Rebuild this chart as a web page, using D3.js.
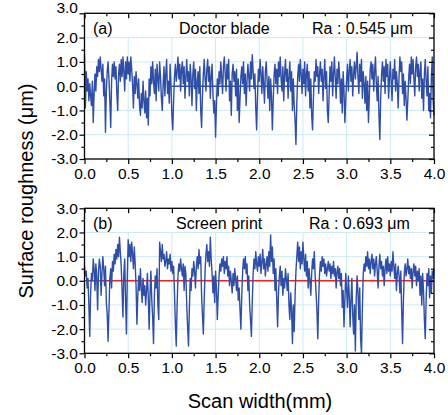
<!DOCTYPE html>
<html>
<head>
<meta charset="utf-8">
<script src="https://cdn.jsdelivr.net/npm/d3@7"></script>
<style>
  html, body { margin: 0; padding: 0; background: #fff; }
  svg { display: block; }
</style>
</head>
<body>
<svg id="chart" width="448" height="415"></svg>
<script>
// ---- data ----
const scanStart = 0.0, scanEnd = 4.0;           // mm
const xTickLabels = ["0.0","0.5","1.0","1.5","2.0","2.5","3.0","3.5","4.0"];
const yTickLabels = ["3.0","2.0","1.0","0.0","-1.0","-2.0","-3.0"];
const panelLetters = ["(a)", "(b)"];
const panelNames = ["Doctor blade", "Screen print"];
const panelRa = ["Ra : 0.545 \u03BCm", "Ra : 0.693 \u03BCm"];

// Doctor blade profile, sampled every 0.01 mm (µm)
const doctorBlade = [
 1.3,-0.9,0.6,-0.2,0.3,-0.6,0.1,-0.4,-0.8,0.2,
 -1.5,-0.3,0.5,-0.2,0.8,0.4,1.1,0.6,1.2,0.7,
 0.2,0.9,-0.4,0.3,-1.9,-0.2,0.6,1.0,0.3,-0.6,
 -1.7,0.2,0.9,0.4,1.0,0.3,0.8,-0.3,-1.0,0.5,
 0.9,0.2,1.1,0.4,1.2,0.6,-0.2,1.0,0.3,1.2,
 0.5,1.0,0.2,1.2,0.7,0.1,-0.9,0.4,-0.3,0.6,
 0.1,-0.5,0.3,-0.8,-1.2,-0.3,-0.9,0.2,-0.6,-1.1,
 -0.2,-1.3,-0.5,-1.6,0.3,-0.4,0.8,0.1,1.0,0.2,
 -0.3,0.7,-0.6,0.9,0.3,-0.2,1.0,0.4,-0.5,-1.0,
 0.1,0.8,-0.4,0.5,1.1,-0.3,0.2,-0.7,0.9,0.0,
 -1.2,-1.8,-0.6,0.4,0.9,0.2,0.6,1.2,0.3,0.9,
 -0.2,0.7,1.0,0.1,0.8,-0.5,0.4,1.1,0.2,0.6,
 -0.4,0.9,0.3,-0.8,0.5,1.0,-0.1,0.7,-1.0,0.2,
 0.6,-0.3,0.8,-1.0,-1.7,-0.4,0.5,1.1,0.3,-0.2,
 0.7,1.1,0.2,0.8,-0.5,0.4,0.9,-0.3,-1.1,-0.6,
 -2.1,-0.8,0.3,-0.4,0.6,0.1,1.0,0.4,-0.3,0.8,
 1.2,0.5,-0.2,0.9,0.3,1.1,-0.6,0.2,-1.2,0.5,
 0.9,0.2,0.6,-0.4,0.7,-1.0,0.3,-1.5,-0.5,0.4,
 0.8,0.1,1.0,-0.3,0.5,-0.8,0.2,0.9,0.4,-0.2,
 1.0,0.3,1.3,0.6,-0.1,0.5,-0.9,-1.8,-0.4,0.7,
 0.2,1.1,0.5,-0.3,0.8,0.1,-0.7,0.6,1.0,0.2,
 -0.5,0.4,-1.0,0.3,-0.4,-1.8,-0.6,0.5,0.9,0.1,
 0.7,-0.3,1.0,0.4,1.2,0.3,-0.2,0.8,-0.6,0.5,
 1.1,0.2,0.7,-0.5,0.4,1.0,-0.2,0.6,-1.0,0.3,
 -0.8,-1.4,-2.4,-0.7,0.4,0.9,0.2,1.1,0.5,-0.3,
 0.7,0.1,1.0,-0.4,0.5,0.9,-0.2,0.6,-0.9,0.3,
 -1.2,-1.8,-0.5,0.6,0.2,1.1,0.4,0.8,-0.3,0.5,
 1.0,0.2,0.7,-0.6,0.4,1.1,-0.1,0.6,-1.0,-1.5,
 -0.3,0.8,0.2,1.0,-0.4,0.5,1.2,0.3,-0.5,0.7,
 0.1,1.0,0.4,-0.7,0.3,-1.1,0.6,-0.2,-1.5,-0.6,
 0.3,0.9,-0.2,0.6,1.1,0.2,0.8,-0.4,0.5,1.0,
 0.3,0.8,1.4,0.4,-0.3,0.9,0.2,1.1,-0.5,0.6,
 0.1,-0.7,0.4,-1.0,0.2,-1.5,-0.4,0.7,1.0,0.3,
 0.9,-0.2,0.6,1.2,0.1,-0.6,0.4,-1.2,-2.2,-0.5,
 0.5,1.0,0.2,0.8,-0.3,1.1,0.4,0.9,-0.5,0.3,
 1.0,0.2,-0.6,0.7,0.3,1.1,-0.2,0.6,0.1,-0.9,
 0.4,1.2,0.6,1.0,-0.3,0.5,-0.8,0.2,-0.5,-1.4,
 -0.6,0.3,0.9,0.1,1.2,0.5,1.1,0.3,-0.4,0.8,
 1.2,0.4,0.9,-0.2,0.6,1.0,-0.5,0.3,-1.0,0.5,
 1.1,0.2,-0.4,0.8,-1.0,-0.3,-1.3,0.4,1.2,-0.6,
 -1.2
];

// Screen print profile, sampled every 0.01 mm (µm)
const screenPrint = [
 0.6,0.2,0.4,-0.3,0.1,-1.0,-2.3,-0.5,0.3,0.0,
 0.9,0.5,-0.4,0.7,0.2,-1.2,0.4,0.9,0.6,-0.6,
 0.3,1.0,0.5,-0.2,0.6,-0.9,-1.4,-2.5,-1.2,0.1,
 0.5,-0.3,0.8,0.4,1.1,0.7,1.3,0.9,1.5,1.0,
 1.8,1.2,0.6,-0.4,-1.5,0.3,0.9,-0.8,-2.2,0.2,
 1.7,1.0,1.5,0.8,1.6,1.1,0.5,1.4,0.7,-0.2,
 -1.8,-0.6,0.2,-0.4,0.5,-0.3,-0.9,0.1,-0.6,-0.2,
 -1.0,-0.4,0.3,-0.7,-2.0,-0.5,0.4,-0.8,-1.5,-2.6,
 -0.6,0.2,-0.3,0.5,-1.0,-1.6,1.6,1.2,0.8,1.5,
 0.9,1.1,0.6,0.8,1.2,0.5,0.9,0.7,1.1,0.4,
 0.8,0.3,0.6,-0.5,-1.8,-2.7,-1.0,0.2,0.7,0.4,
 0.9,0.5,0.2,0.7,-0.4,0.6,0.3,-1.0,-1.9,-2.7,
 -1.2,0.1,-0.4,0.5,0.2,0.8,0.4,-0.3,0.6,1.0,
 0.5,1.3,0.7,1.0,-0.6,-1.4,-2.2,-0.8,0.4,1.1,
 1.5,0.8,1.2,0.6,1.8,0.9,0.3,-0.5,0.2,-0.9,
 0.4,-0.3,-1.6,-0.6,0.2,0.7,0.4,0.9,0.6,1.0,
 0.3,0.8,0.5,1.0,0.2,0.6,-0.2,0.4,0.0,-0.5,
 0.3,-0.2,0.5,0.1,-0.4,0.2,-0.8,-0.3,-1.2,-2.0,
 -0.6,0.4,0.9,0.5,1.0,0.3,0.7,-0.4,0.2,-1.0,
 -1.6,-2.3,-0.9,0.3,0.9,0.5,1.2,0.7,0.4,1.0,
 0.6,1.1,0.3,0.8,1.3,0.5,0.9,0.2,0.7,1.0,
 0.4,1.2,0.6,1.9,0.8,1.4,0.3,0.9,-0.4,0.5,
 -0.8,-1.9,-0.5,0.2,0.6,-0.2,0.4,-0.6,0.1,-0.3,
 0.5,0.1,-0.4,0.3,-1.0,-1.6,-0.5,-1.2,-2.6,-1.0,
 -2.1,-0.6,0.4,1.0,1.6,0.8,1.4,0.5,1.2,0.7,
 1.6,0.9,0.4,1.1,0.2,0.8,-0.3,0.5,0.0,-0.6,
 0.3,0.9,0.5,1.2,0.2,-0.5,-1.2,-2.4,-0.8,0.3,
 0.8,0.4,1.0,0.6,0.9,0.3,0.7,0.2,0.5,0.8,
 0.4,0.7,0.1,0.6,0.3,0.8,0.2,0.5,-0.3,0.4,
 0.6,0.1,0.5,-0.2,0.3,-1.1,-0.4,-1.9,-0.8,0.3,
 -0.4,-1.1,0.2,-0.6,-1.9,-0.8,0.1,-1.4,-2.2,-1.0,
 -2.9,-0.7,0.2,-0.5,-1.6,-0.3,-2.4,-3.0,-1.2,0.3,
 0.7,0.4,1.0,0.6,1.2,0.5,0.9,0.3,0.8,1.1,
 0.5,0.9,0.2,0.7,1.0,0.4,-0.3,0.6,1.1,0.5,
 0.8,0.2,0.6,-0.2,0.5,0.9,0.3,1.0,0.4,0.7,
 0.2,0.8,0.4,1.2,0.6,0.1,0.7,-0.4,0.3,0.6,
 0.2,-0.5,0.4,-1.2,-2.6,-0.8,0.3,0.7,0.2,0.5,
 0.9,0.3,0.6,0.1,0.5,-0.3,0.4,0.7,0.2,0.6,
 -0.2,0.4,0.0,0.5,-0.6,0.2,-1.0,0.3,-0.4,-1.6,
 -2.4,-0.8,0.3,-0.2,0.5,-0.7,0.2,-0.5,0.4,0.1,
 0.5
];

// ---- drawing ----
const svg = d3.select("#chart");
const FONT = "Arial, 'Liberation Sans', Helvetica, sans-serif";
const lineColor = "#2f4ea6";
const gridColor = "#c9eaf6";

const x = d3.scaleLinear().domain([scanStart, scanEnd]).range([84.5, 434]);

const panels = [
  { data: doctorBlade, top: 13.3, bottom: 159, zero: { color: lineColor, from: 1.0 } },
  { data: screenPrint, top: 208.3, bottom: 353.3, zero: { color: "#ee2222", from: 0.0 } }
];

const yMajor = yTickLabels.map(Number);
const xMajor = xTickLabels.map(Number);
const yMinor = d3.range(-5, 6).map(d => d * 0.5).filter(v => !yMajor.includes(v));
const xMinor = d3.range(1, 16, 2).map(d => d * 0.25);

panels.forEach((p, pi) => {
  const y = d3.scaleLinear().domain([-3, 3]).range([p.bottom, p.top]);
  const g = svg.append("g");

  // grid (vertical lines stop at 2.0, below the caption band)
  g.append("g").selectAll("line").data(xMajor.filter(v => v > 0 && v < 4)).join("line")
    .attr("x1", d => x(d)).attr("x2", d => x(d))
    .attr("y1", y(-3)).attr("y2", y(2))
    .attr("stroke", gridColor).attr("stroke-width", 1);
  g.append("g").selectAll("line").data([2, 1, -1, -2]).join("line")
    .attr("x1", x(0)).attr("x2", x(4))
    .attr("y1", d => y(d)).attr("y2", d => y(d))
    .attr("stroke", gridColor).attr("stroke-width", 1);

  // zero reference line
  g.append("line")
    .attr("x1", x(p.zero.from)).attr("x2", x(4))
    .attr("y1", y(0)).attr("y2", y(0))
    .attr("stroke", p.zero.color).attr("stroke-width", 1.5);

  // profile
  const line = d3.line().x((d, i) => x(scanStart + i * 0.01)).y(d => y(d));
  g.append("path").datum(p.data)
    .attr("d", line)
    .attr("fill", "none")
    .attr("stroke", lineColor)
    .attr("stroke-width", 1.4)
    .attr("stroke-linejoin", "round");

  // axes
  const axL = g.append("g").attr("transform", `translate(${x(0)},0)`)
    .call(d3.axisLeft(y).tickValues(yMajor).tickFormat((d, i) => yTickLabels[i]).tickSize(5).tickSizeOuter(0));
  g.append("g").attr("transform", `translate(${x(0)},0)`)
    .call(d3.axisLeft(y).tickValues(yMinor).tickFormat("").tickSize(3).tickSizeOuter(0));
  g.append("g").attr("transform", `translate(${x(4)},0)`)
    .call(d3.axisRight(y).tickValues(yMajor).tickFormat("").tickSize(-5).tickSizeOuter(0));
  g.append("g").attr("transform", `translate(${x(4)},0)`)
    .call(d3.axisRight(y).tickValues(yMinor).tickFormat("").tickSize(-3).tickSizeOuter(0));

  const axB = g.append("g").attr("transform", `translate(0,${y(-3)})`)
    .call(d3.axisBottom(x).tickValues(xMajor).tickFormat((d, i) => xTickLabels[i]).tickSize(5).tickSizeOuter(0));
  g.append("g").attr("transform", `translate(0,${y(-3)})`)
    .call(d3.axisBottom(x).tickValues(xMinor).tickFormat("").tickSize(3).tickSizeOuter(0));
  g.append("g").attr("transform", `translate(0,${y(3)})`)
    .call(d3.axisTop(x).tickValues(xMajor).tickFormat("").tickSize(-5).tickSizeOuter(0));
  g.append("g").attr("transform", `translate(0,${y(3)})`)
    .call(d3.axisTop(x).tickValues(xMinor).tickFormat("").tickSize(-3).tickSizeOuter(0));

  g.selectAll(".domain").remove();
  g.selectAll(".tick line").attr("stroke", "#000").attr("stroke-width", 1.2);
  g.selectAll(".tick text").attr("font-family", FONT).attr("font-size", 15.5).attr("fill", "#000");
  axL.selectAll(".tick text").attr("x", -6.5);
  axB.selectAll(".tick text").attr("y", 9);
  if (pi === 0) {
    axL.selectAll(".tick text").filter((d) => d === 3).attr("dy", "-0.05em");
  }

  // frame
  g.append("rect")
    .attr("x", x(0)).attr("y", y(3))
    .attr("width", x(4) - x(0)).attr("height", y(-3) - y(3))
    .attr("fill", "none").attr("stroke", "#000").attr("stroke-width", 1.3);

  // captions
  const capY = y(3) + 21;
  const cap = (txt, cx, anchor) => g.append("text")
    .attr("x", cx).attr("y", capY)
    .attr("text-anchor", anchor)
    .attr("font-family", FONT).attr("font-size", 16).attr("fill", "#000")
    .text(txt);
  cap(panelLetters[pi], 93, "start");
  cap(panelNames[pi], pi === 0 ? 179 : 176, "start");
  cap(panelRa[pi], pi === 0 ? 312 : 309, "start");
});

// axis titles
svg.append("text")
  .attr("x", 260).attr("y", 408)
  .attr("text-anchor", "middle")
  .attr("font-family", FONT).attr("font-size", 20).attr("fill", "#000")
  .text("Scan width(mm)");

svg.append("text")
  .attr("transform", "translate(33,191) rotate(-90)")
  .attr("text-anchor", "middle")
  .attr("font-family", FONT).attr("font-size", 20).attr("fill", "#000")
  .text("Surface roughness (\u03BCm)");
</script>
</body>
</html>
